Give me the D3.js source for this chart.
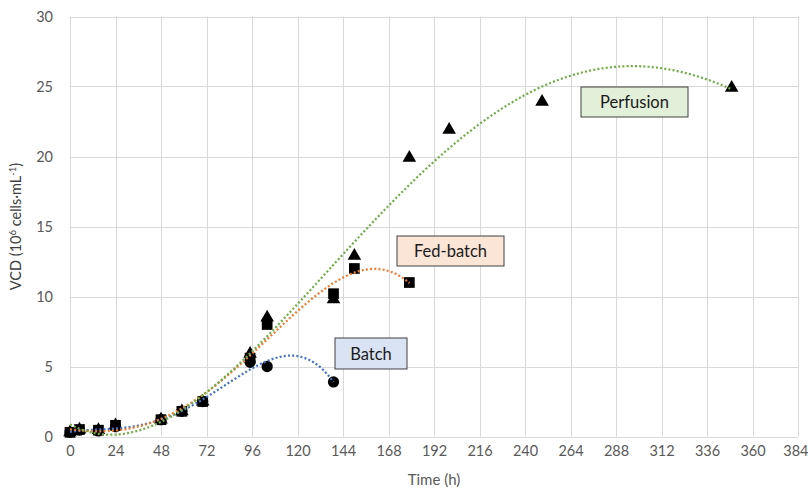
<!DOCTYPE html>
<html>
<head>
<meta charset="utf-8">
<script src="https://cdn.jsdelivr.net/npm/d3@7"></script>
<style>
  html, body { margin: 0; padding: 0; background: #ffffff; }
  svg { display: block; font-family: Lato, "Open Sans", sans-serif; }
</style>
</head>
<body>
<svg id="chart" width="808" height="495"></svg>
<script>
// Viable cell density over time for three culture modes
const batchTime = [0, 5, 15, 24, 48, 59, 70, 95, 104, 139];
const batchVCD  = [0.3, 0.45, 0.4, 0.7, 1.2, 1.8, 2.5, 5.3, 5.0, 3.9];

const fedTime = [0, 5, 15, 24, 48, 59, 70, 95, 104, 139, 150, 179];
const fedVCD  = [0.3, 0.5, 0.45, 0.8, 1.2, 1.8, 2.5, 5.6, 8.0, 10.2, 12.0, 11.0];

const perfTime = [0, 5, 15, 24, 48, 59, 70, 95, 104, 139, 150, 179, 200, 249, 349];
const perfVCD  = [0.3, 0.5, 0.45, 0.8, 1.2, 1.8, 2.5, 5.9, 8.5, 9.8, 12.9, 19.9, 21.9, 23.9, 24.9];

const seriesNames = ["Batch", "Fed-batch", "Perfusion"];
const trendOrder = [4, 4, 4];

const xTicks = d3.range(0, 385, 24);
const yTicks = [0, 5, 10, 15, 20, 25, 30];

const svg = d3.select("#chart");

const x = d3.scaleLinear().domain([0, 384]).range([70, 798]);
const y = d3.scaleLinear().domain([0, 30]).range([436.5, 16.5]);

// gridlines
const grid = svg.append("g");
grid.selectAll("line.v").data(xTicks).join("line")
  .attr("x1", d => Math.round(x(d)) + 0.5).attr("x2", d => Math.round(x(d)) + 0.5)
  .attr("y1", y(30)).attr("y2", y(0))
  .attr("stroke", "#d9d9d9").attr("stroke-width", 1);
grid.selectAll("line.h").data(yTicks).join("line")
  .attr("y1", d => Math.round(y(d)) + 0.5).attr("y2", d => Math.round(y(d)) + 0.5)
  .attr("x1", x(0)).attr("x2", x(384))
  .attr("stroke", "#d9d9d9").attr("stroke-width", 1);

// axes (labels only; lines come from the grid)
const xAxis = svg.append("g").attr("transform", `translate(0,${y(0)})`)
  .call(d3.axisBottom(x).tickValues(xTicks).tickSize(0).tickPadding(9));
const yAxis = svg.append("g").attr("transform", `translate(${x(0)},0)`)
  .call(d3.axisLeft(y).tickValues(yTicks).tickSize(0).tickPadding(17));
[xAxis, yAxis].forEach(a => {
  a.select(".domain").remove();
  a.selectAll("text").attr("fill", "#595959").style("font-size", "14.5px")
    .style("font-family", "Lato, sans-serif");
});
// the last x label sits at the right edge of the canvas
xAxis.selectAll(".tick").filter(d => d === 384).select("text")
  .attr("text-anchor", "end").attr("x", 808 - x(384));

// axis titles
svg.append("text").attr("x", x(192)).attr("y", 485)
  .attr("text-anchor", "middle").attr("fill", "#595959")
  .style("font-size", "15px").text("Time (h)");

const yt = svg.append("text")
  .attr("transform", `translate(21,${y(15)}) rotate(-90)`)
  .attr("text-anchor", "middle").attr("fill", "#404040")
  .style("font-size", "14.5px");
yt.append("tspan").text("VCD (10");
yt.append("tspan").attr("dy", -5).style("font-size", "9.5px").text("6");
yt.append("tspan").attr("dy", 5).text(" cells·mL");
yt.append("tspan").attr("dy", -5).style("font-size", "9.5px").text("-1");
yt.append("tspan").attr("dy", 5).text(")");

// least-squares polynomial trendline
function polyFit(ts, vs, order) {
  const s = 100; // scale time for numerical stability
  const n = order + 1;
  const A = Array.from({ length: n }, () => new Array(n + 1).fill(0));
  ts.forEach((t, k) => {
    const u = t / s;
    for (let i = 0; i < n; i++) {
      for (let j = 0; j < n; j++) A[i][j] += Math.pow(u, i + j);
      A[i][n] += vs[k] * Math.pow(u, i);
    }
  });
  for (let c = 0; c < n; c++) {
    let p = c;
    for (let r = c + 1; r < n; r++) if (Math.abs(A[r][c]) > Math.abs(A[p][c])) p = r;
    [A[c], A[p]] = [A[p], A[c]];
    for (let r = 0; r < n; r++) {
      if (r === c) continue;
      const f = A[r][c] / A[c][c];
      for (let k = c; k <= n; k++) A[r][k] -= f * A[c][k];
    }
  }
  const coef = A.map((row, i) => row[n] / row[i]);
  return t => coef.reduce((acc, c, i) => acc + c * Math.pow(t / s, i), 0);
}

const series = [
  { name: seriesNames[0], t: batchTime, v: batchVCD, color: "#4472c4", order: trendOrder[0], shape: d3.symbolCircle, size: 100 },
  { name: seriesNames[1], t: fedTime, v: fedVCD, color: "#ed7d31", order: trendOrder[1], shape: d3.symbolSquare, size: 115 },
  { name: seriesNames[2], t: perfTime, v: perfVCD, color: "#70ad47", order: trendOrder[2], shape: d3.symbolTriangle, size: 80 }
];

// markers: circles, then triangles, then squares on top
const markerOrder = [series[0], series[2], series[1]];
markerOrder.forEach(s => {
  svg.append("g").selectAll("path").data(s.t.map((t, i) => [t, s.v[i]])).join("path")
    .attr("transform", d => `translate(${x(d[0])},${y(d[1])})`)
    .attr("d", d3.symbol().type(s.shape).size(s.size))
    .attr("fill", "#000000");
});

// trendlines drawn over markers
const line = d3.line().x(d => x(d[0])).y(d => y(d[1]));
series.forEach(s => {
  const f = polyFit(s.t, s.v, s.order);
  const tMax = d3.max(s.t);
  const pts = d3.range(0, tMax + 0.01, 1).map(t => [t, f(t)]);
  svg.append("path").datum(pts).attr("d", line)
    .attr("fill", "none").attr("stroke", s.color)
    .attr("stroke-width", 2.25).attr("stroke-dasharray", "2 2.2");
});

// labels in boxes
const labels = [
  { text: seriesNames[0], cx: 371, cy: 353.5, w: 72, h: 31, fill: "#dae3f3" },
  { text: seriesNames[1], cx: 450.5, cy: 251, w: 107, h: 30, fill: "#fbe5d6" },
  { text: seriesNames[2], cx: 634.5, cy: 102, w: 107, h: 30, fill: "#e2f0d9" }
];
labels.forEach(l => {
  svg.append("rect").attr("x", l.cx - l.w / 2).attr("y", l.cy - l.h / 2)
    .attr("width", l.w).attr("height", l.h)
    .attr("fill", l.fill).attr("stroke", "#404040").attr("stroke-width", 1);
  svg.append("text").attr("x", l.cx).attr("y", l.cy + 6)
    .attr("text-anchor", "middle").attr("fill", "#1a1a1a")
    .style("font-size", "16.5px").text(l.text);
});
</script>
</body>
</html>
